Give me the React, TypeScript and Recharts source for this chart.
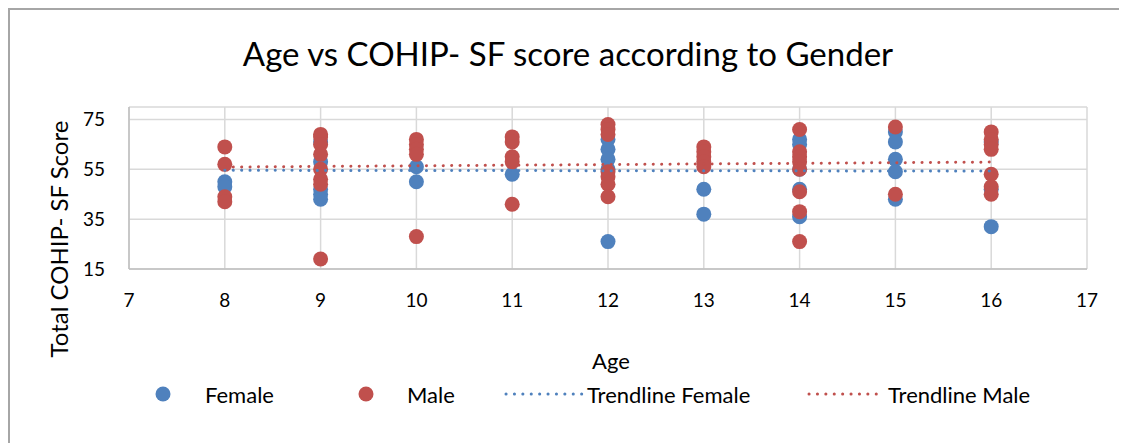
import { CartesianGrid, Scatter, ScatterChart, XAxis, YAxis } from "recharts";

const FEMALE_COLOR = "#4F81BD";
const MALE_COLOR = "#C0504D";
const FONT = "Lato, 'Open Sans', sans-serif";

// ages on the x axis
const ageTicks = [7, 8, 9, 10, 11, 12, 13, 14, 15, 16, 17];
const scoreTicks = [15, 35, 55, 75];

// female respondents (age, score)
const femaleAges = [8, 8, 9, 9, 9, 9, 9, 10, 10, 11, 12, 12, 12, 12, 12, 13, 13, 14, 14, 14, 14, 14, 15, 15, 15, 15, 15, 16, 16, 16];
const femaleScores = [50, 48, 66, 58, 47, 45, 43, 56, 50, 53, 67, 63, 59, 55, 26, 47, 37, 67, 65, 55, 47, 36, 70, 66, 59, 54, 43, 66, 47, 32];

// male respondents (age, score)
const maleAges = [8, 8, 8, 8, 9, 9, 9, 9, 9, 9, 9, 9, 10, 10, 10, 10, 10, 11, 11, 11, 11, 11, 12, 12, 12, 12, 12, 12, 12, 13, 13, 13, 13, 13, 14, 14, 14, 14, 14, 14, 14, 14, 15, 15, 16, 16, 16, 16, 16, 16, 16];
const maleScores = [64, 57, 44, 42, 69, 68, 65, 61, 55, 51, 49, 19, 67, 65, 63, 61, 28, 68, 66, 60, 58, 41, 73, 71, 69, 54, 52, 49, 44, 64, 62, 60, 58, 56, 71, 62, 60, 58, 55, 46, 38, 26, 72, 45, 70, 67, 65, 63, 53, 48, 45];

// trendline end points
const trendAges = [8, 16];
const trendFemale = [54.6, 54.3];
const trendMale = [55.9, 57.9];

const toPoints = (xs: number[], ys: number[]) => xs.map((x, i) => ({ x, y: ys[i] }));

const femaleData = toPoints(femaleAges, femaleScores);
const maleData = toPoints(maleAges, maleScores);
const femaleTrend = toPoints(trendAges, trendFemale);
const maleTrend = toPoints(trendAges, trendMale);

const dot = (color: string) => (props: any) =>
  <circle cx={props.cx} cy={props.cy} r={7.5} fill={color} />;

const W = 1119;
const H = 435;

export default function App() {
  return (
    <div style={{ position: "relative", width: W, height: H, fontFamily: FONT, background: "#fff" }}>
      <div
        style={{
          position: "absolute",
          left: 0,
          top: 0,
          width: W + 8,
          height: H + 8,
          borderTop: "2px solid #a6a6a6",
          borderLeft: "2px solid #a6a6a6",
          boxSizing: "border-box",
        }}
      />
      <ScatterChart width={W} height={H} margin={{ top: 99, right: 40, bottom: 134, left: 61 }}>
        <CartesianGrid stroke="#d9d9d9" strokeWidth={1.5} />
        <XAxis
          type="number"
          dataKey="x"
          domain={[7, 17]}
          ticks={ageTicks}
          interval={0}
          height={40}
          tickLine={false}
          tickSize={0}
          tickMargin={25}
          axisLine={{ stroke: "#bfbfbf", strokeWidth: 1.5 }}
          tick={{ fill: "#000", fontSize: 19, fontFamily: FONT }}
        />
        <YAxis
          type="number"
          dataKey="y"
          domain={[15, 80]}
          ticks={scoreTicks}
          interval={0}
          width={60}
          tickLine={false}
          tickSize={0}
          tickMargin={24}
          axisLine={{ stroke: "#bfbfbf", strokeWidth: 1.5 }}
          tick={{ fill: "#000", fontSize: 19, fontFamily: FONT }}
        />
        <Scatter name="Female" data={femaleData} fill={FEMALE_COLOR} shape={dot(FEMALE_COLOR)} isAnimationActive={false} />
        <Scatter name="Male" data={maleData} fill={MALE_COLOR} shape={dot(MALE_COLOR)} isAnimationActive={false} />
        <Scatter
          name="Trendline Female"
          data={femaleTrend}
          line={{ stroke: FEMALE_COLOR, strokeWidth: 3, strokeDasharray: "0.1 8.3", strokeLinecap: "round" }}
          shape={() => <g />}
          isAnimationActive={false}
        />
        <Scatter
          name="Trendline Male"
          data={maleTrend}
          line={{ stroke: MALE_COLOR, strokeWidth: 3, strokeDasharray: "0.1 8.3", strokeLinecap: "round" }}
          shape={() => <g />}
          isAnimationActive={false}
        />
      </ScatterChart>
      <svg width={W} height={H} style={{ position: "absolute", left: 0, top: 0, pointerEvents: "none" }}>
        <text x={560} y={45} textAnchor="middle" dominantBaseline="central" fontSize={33} fontFamily={FONT} fill="#000">
          Age vs COHIP- SF score according to Gender
        </text>
        <text
          x={50}
          y={231}
          textAnchor="middle"
          dominantBaseline="central"
          fontSize={24}
          fontFamily={FONT}
          fill="#000"
          transform="rotate(-90 50 231)"
        >
          Total COHIP- SF Score
        </text>
        <text x={603} y={352} textAnchor="middle" dominantBaseline="central" fontSize={22} fontFamily={FONT} fill="#000">
          Age
        </text>
        <g fontSize={22} fontFamily={FONT} fill="#000">
          <circle cx={155} cy={386} r={7.5} fill={FEMALE_COLOR} />
          <text x={197} y={386} dominantBaseline="central">Female</text>
          <circle cx={358} cy={386} r={7.5} fill={MALE_COLOR} />
          <text x={399} y={386} dominantBaseline="central">Male</text>
          <line x1={498} y1={386} x2={576} y2={386} stroke={FEMALE_COLOR} strokeWidth={3} strokeDasharray="0.1 8.3" strokeLinecap="round" />
          <text x={579} y={386} dominantBaseline="central">Trendline Female</text>
          <line x1={801} y1={386} x2={876} y2={386} stroke={MALE_COLOR} strokeWidth={3} strokeDasharray="0.1 8.3" strokeLinecap="round" />
          <text x={880} y={386} dominantBaseline="central">Trendline Male</text>
        </g>
      </svg>
    </div>
  );
}
